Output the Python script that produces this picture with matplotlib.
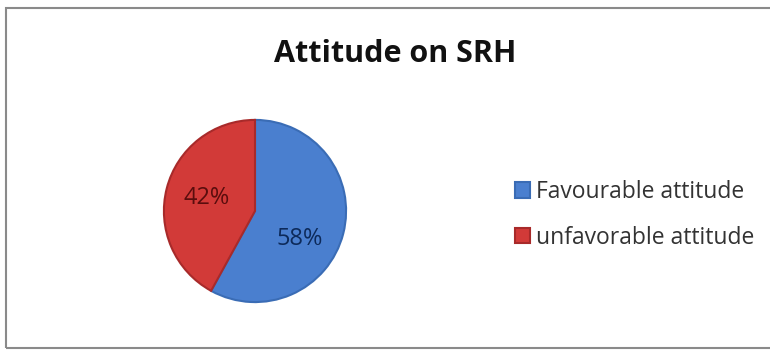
import matplotlib
matplotlib.use('Agg')
import matplotlib.pyplot as plt
from matplotlib.patches import Rectangle

labels = ['Favourable attitude', 'unfavorable attitude']
values = [58, 42]
colors = ['#4a7fcf', '#d23a38']
edge_colors = ['#3a6cb5', '#a82a2a']
pct_colors = ['#0d2a5a', '#5a0d0d']
# 百分比标签的位置（饼半径为1的坐标）
pct_pos = [(0.49, -0.31), (-0.53, 0.14)]

fig = plt.figure(figsize=(7.7, 3.5), dpi=100)
fig.patch.set_facecolor('white')

# 外框
fig.patches.append(Rectangle((6 / 770, 2 / 350), 770 / 770, 340 / 350,
                             transform=fig.transFigure, fill=False,
                             edgecolor='#8a8a8a', linewidth=1.5))

fig.text(395 / 770, 1 - 54 / 350, 'Attitude on SRH', ha='center', va='center',
         fontsize=22, fontweight='bold', family='Open Sans', color='#111111')

# 饼图
r_px = 92
cx, cy = 255, 211
ax = fig.add_axes([(cx - r_px) / 770, 1 - (cy + r_px) / 350,
                   2 * r_px / 770, 2 * r_px / 350])
wedges, texts, autotexts = ax.pie(values, colors=colors, startangle=90,
                                  counterclock=False, autopct='%d%%',
                                  pctdistance=0.56,
                                  wedgeprops=dict(linewidth=1.5, edgecolor='#8b2a2a'),
                                  textprops=dict(fontsize=17, family='Open Sans'))
for w, ec in zip(wedges, edge_colors):
    w.set_edgecolor(ec)
for t, c, p in zip(autotexts, pct_colors, pct_pos):
    t.set_color(c)
    t.set_position(p)
ax.set_xlim(-1.01, 1.01)
ax.set_ylim(-1.01, 1.01)
ax.set_aspect('equal')

leg = fig.legend(wedges, labels, loc='center left',
                 bbox_to_anchor=(494 / 770, 1 - 215 / 350), frameon=False,
                 prop=dict(family='Open Sans', size=16.5), handlelength=0.65,
                 handleheight=0.65, handletextpad=0.3, labelspacing=0.95)
for t in leg.get_texts():
    t.set_color('#333333')

fig.savefig('out.png', dpi=100)
